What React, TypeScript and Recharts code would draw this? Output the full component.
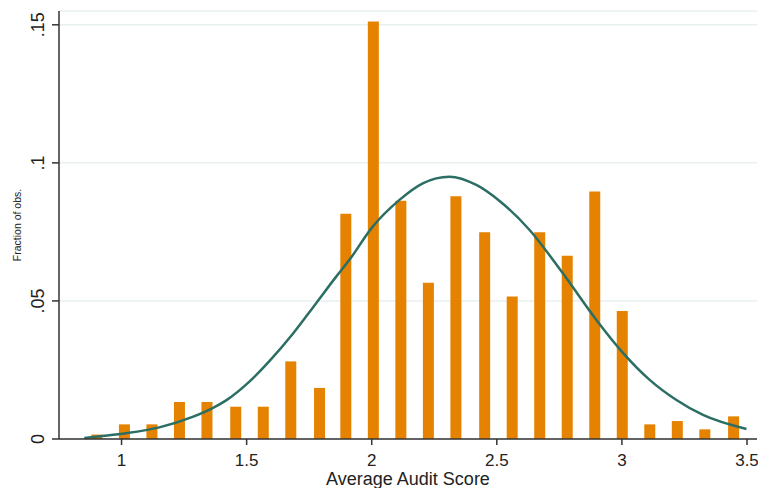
import React from 'react';
import { ComposedChart, Bar, Line, XAxis, YAxis, CartesianGrid, Label } from 'recharts';

// histogram bins (bin centre) and fraction of observations
const binCenters = [
  0.9, 1.01, 1.12, 1.23, 1.34, 1.455, 1.565, 1.675, 1.79, 1.895, 2.005, 2.115,
  2.225, 2.335, 2.45, 2.56, 2.67, 2.78, 2.89, 3.0, 3.11, 3.22, 3.33, 3.445,
];
const binFractions = [
  0.0016, 0.0053, 0.0053, 0.0134, 0.0134, 0.0117, 0.0117, 0.0281, 0.0185, 0.0816, 0.1512, 0.0863,
  0.0566, 0.0879, 0.0749, 0.0516, 0.0749, 0.0664, 0.0896, 0.0464, 0.0053, 0.0065, 0.0035, 0.0082,
];

// normal curve, points
const curveX = [
  0.851, 0.924, 1.018, 1.151, 1.284, 1.364, 1.418, 1.511, 1.591, 1.684, 1.778, 1.858,
  1.911, 2.004, 2.111, 2.204, 2.311, 2.418, 2.511, 2.631, 2.764, 2.898, 3.005, 3.111,
  3.218, 3.324, 3.498,
];
const curveY = [
  0.0004, 0.0011, 0.0021, 0.0042, 0.008, 0.0112, 0.014, 0.0208, 0.0282, 0.038, 0.0492, 0.0588,
  0.0649, 0.0769, 0.0866, 0.0926, 0.095, 0.092, 0.0862, 0.0757, 0.06, 0.0431, 0.0311, 0.0214,
  0.0141, 0.0087, 0.0036,
];

const xTicks = [1, 1.5, 2, 2.5, 3, 3.5];
const yTicks = [0, 0.05, 0.1, 0.15];
const yTickLabels = ['0', '.05', '.1', '.15'];

const bins = binCenters.map((x, i) => ({ x, frac: binFractions[i] }));
const curve = curveX.map((x, i) => ({ x, curve: curveY[i] }));

const X_DOMAIN = [0.75, 3.54];
const FONT = '"Liberation Sans", Arial, sans-serif';

const YTick = (props: any) => {
  const { x, y, payload } = props;
  const idx = yTicks.indexOf(payload.value);
  return (
    <text
      x={x}
      y={y}
      transform={`rotate(-90, ${x}, ${y})`}
      textAnchor="middle"
      fontSize={18}
      fontFamily={FONT}
      fill="#222"
    >
      {idx >= 0 ? yTickLabels[idx] : payload.value}
    </text>
  );
};

const YTitle = (props: any) => {
  const { viewBox } = props;
  const cx = 17;
  const cy = viewBox.y + viewBox.height / 2;
  return (
    <text
      x={cx}
      y={cy}
      transform={`rotate(-90, ${cx}, ${cy})`}
      textAnchor="middle"
      dominantBaseline="central"
      fontSize={10.5}
      fontFamily={FONT}
      fill="#222"
    >
      Fraction of obs.
    </text>
  );
};

export default function App() {
  return (
    <div style={{ position: 'absolute', left: 0, top: 0, width: 758, height: 488, background: '#fff' }}>
      <ComposedChart
        width={758}
        height={488}
        data={bins}
        margin={{ top: 11, right: 1, bottom: 0, left: 0 }}
      >
        <CartesianGrid vertical={false} stroke="#e9f0f0" strokeWidth={1.5} />
        <XAxis
          dataKey="x"
          type="number"
          domain={X_DOMAIN}
          ticks={xTicks}
          allowDataOverflow
          height={49}
          stroke="#333"
          strokeWidth={1.5}
          tickSize={6}
          tickMargin={9}
          tick={{ fontSize: 17, fontFamily: FONT, fill: '#222' }}
        >
          <Label
            value="Average Audit Score"
            position="insideBottom"
            offset={3}
            style={{ fontSize: 18, fontFamily: FONT, fill: '#222', textAnchor: 'middle' }}
          />
        </XAxis>
        <XAxis xAxisId="curve" dataKey="x" type="number" domain={X_DOMAIN} allowDataOverflow hide />
        <YAxis
          type="number"
          domain={[0, 0.155]}
          ticks={yTicks}
          allowDataOverflow
          width={59}
          stroke="#333"
          strokeWidth={1.5}
          tickSize={7}
          tickMargin={8}
          tick={<YTick />}
        >
          <Label content={<YTitle />} />
        </YAxis>
        <Bar dataKey="frac" fill="#e58200" barSize={11} isAnimationActive={false} />
        <Line
          xAxisId="curve"
          data={curve}
          dataKey="curve"
          type="monotone"
          stroke="#2b6e64"
          strokeWidth={2.5}
          dot={false}
          isAnimationActive={false}
        />
      </ComposedChart>
    </div>
  );
}
